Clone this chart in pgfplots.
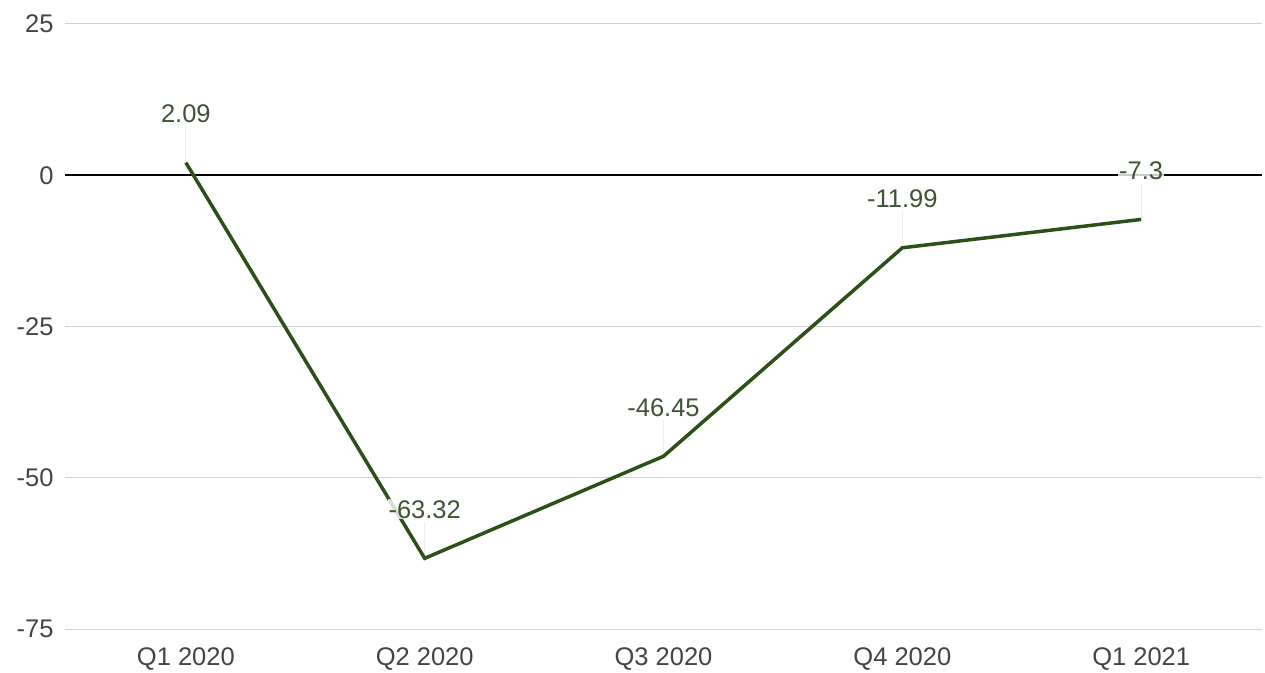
\documentclass[border=0pt]{standalone}
\usepackage{fontspec}
\setmainfont{Liberation Sans}
\usepackage{pgfplots}
\usepackage{pgfplotstable}
\pgfplotsset{compat=1.18}
\definecolor{linegreen}{RGB}{45,80,25}
\definecolor{labgreen}{RGB}{62,84,50}
\definecolor{ticktxt}{RGB}{68,68,68}
\definecolor{gridc}{RGB}{208,208,208}
\pgfplotstableread{
x y lab
0 2.09 2.09
1 -63.32 -63.32
2 -46.45 -46.45
3 -11.99 -11.99
4 -7.3 -7.3
}\gdpdata
\begin{document}
\begin{tikzpicture}
\path[use as bounding box] (-65pt,-43pt) rectangle (1200pt,629pt);
\begin{axis}[
  at={(0pt,0pt)}, anchor=south west,
  scale only axis, width=1197pt, height=605pt,
  xmin=-0.506, xmax=4.506, ymin=-75, ymax=25,
  xtick={0,1,2,3,4},
  xticklabels={Q1 2020,Q2 2020,Q3 2020,Q4 2020,Q1 2021},
  ytick={-75,-50,-25,25},
  extra y ticks={0},
  extra y tick style={grid style={draw=black, line width=1.6pt}},
  ymajorgrids, grid style={draw=gridc, line width=1pt},
  axis line style={draw=none},
  major tick style={draw=none},
  tick label style={font=\fontsize{25.5}{25.5}\selectfont, text=ticktxt},
  /pgf/number format/assume math mode=true,
  yticklabel style={xshift=-8pt},
  xticklabel style={yshift=-15pt},
  clip=false,
]
\addplot[draw=gray!15, line width=0.8pt, no marks,
  error bars/.cd, y dir=plus, y explicit, error bar style={draw=gray!15, line width=0.8pt}, error mark=none]
  table[x=x, y=y, y error expr=6.0] {\gdpdata};
\addplot[linegreen, line width=3.5pt, no marks,
  nodes near coords, point meta=explicit symbolic,
  every node near coord/.append style={anchor=center, yshift=49pt, font=\fontsize{25.5}{25.5}\selectfont, text=labgreen, fill=white, fill opacity=0.8, text opacity=1, inner sep=1pt}]
  table[x=x, y=y, meta=lab] {\gdpdata};
\end{axis}
\end{tikzpicture}
\end{document}
